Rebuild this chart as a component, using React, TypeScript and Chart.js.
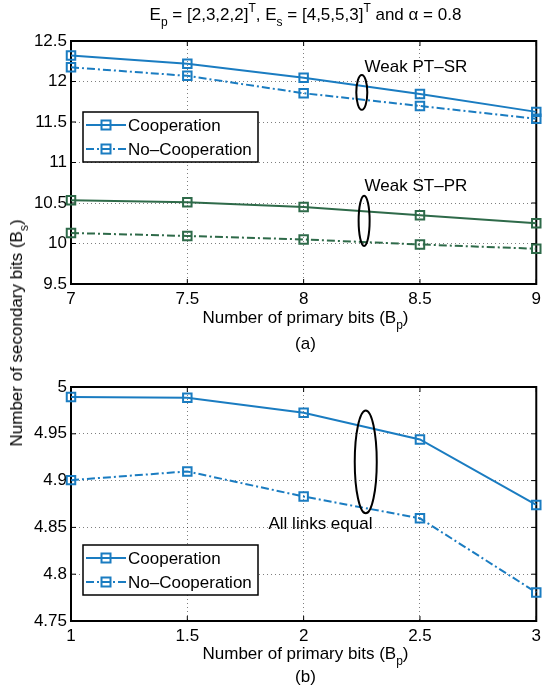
import React, { useEffect, useRef } from "react";
import { Chart, registerables } from "chart.js";

Chart.register(...registerables);

const FONT_FAMILY = '"Liberation Sans", Arial, Helvetica, sans-serif';
const BLUE = "#1a7cc1";
const GREEN = "#2e6a49";

// ---------- Panel (a) data ----------
const primaryBitsA = [7, 7.5, 8, 8.5, 9];
const coopWeakPTSR = [12.32, 12.218, 12.045, 11.845, 11.625];
const noCoopWeakPTSR = [12.175, 12.07, 11.855, 11.698, 11.54];
const coopWeakSTPR = [10.535, 10.51, 10.452, 10.35, 10.25];
const noCoopWeakSTPR = [10.13, 10.093, 10.05, 9.988, 9.935];
const xTicksA = [7, 7.5, 8, 8.5, 9];
const yTicksA = [9.5, 10, 10.5, 11, 11.5, 12, 12.5];

// ---------- Panel (b) data ----------
const primaryBitsB = [1, 1.5, 2, 2.5, 3];
const coopAllEqual = [4.9894, 4.9885, 4.9724, 4.944, 4.874];
const noCoopAllEqual = [4.9005, 4.9098, 4.883, 4.8597, 4.7805];
const xTicksB = [1, 1.5, 2, 2.5, 3];
const yTicksB = [4.75, 4.8, 4.85, 4.9, 4.95, 5];

const legendLabels = ["Cooperation", "No\u2013Cooperation"];

// annotations (data coordinates)
const ellipsesA = [
  { x: 8.25, y: 11.865, halfHeight: 0.215 },
  { x: 8.26, y: 10.28, halfHeight: 0.31 },
];
const notesA = [
  { text: "Weak PT\u2013SR", x: 8.262, y: 12.18 },
  { text: "Weak ST\u2013PR", x: 8.262, y: 10.7 },
];
const ellipsesB = [{ x: 2.267, y: 4.92, halfHeight: 0.055 }];
const notesB = [{ text: "All links equal", x: 1.849, y: 4.853 }];

const DASH_DOT = [8, 3, 2, 3];

function fmt(v: number) {
  return String(Number(v.toFixed(2)));
}

function ds(label: string, xs: number[], ys: number[], color: string, dashed: boolean) {
  return {
    label,
    data: xs.map((x, i) => ({ x, y: ys[i] })),
    borderColor: color,
    backgroundColor: "rgba(0,0,0,0)",
    borderWidth: 2,
    borderDash: dashed ? DASH_DOT : [],
    pointStyle: "rect",
    pointRadius: 6,
    pointHoverRadius: 6,
    pointBorderWidth: 2,
    pointBorderColor: color,
    pointBackgroundColor: "rgba(0,0,0,0)",
    tension: 0,
    fill: false,
    clip: false,
  };
}

function decorPlugin(
  xTicks: number[],
  yTicks: number[],
  ellipses: { x: number; y: number; halfHeight: number }[],
  ellipseRx: number,
  notes: { text: string; x: number; y: number }[],
  legendColor: string,
  legendTopOffset: number
) {
  return {
    id: "decor",
    beforeDatasetsDraw(chart: any) {
      const { ctx, chartArea: a, scales } = chart;
      ctx.save();
      ctx.strokeStyle = "#000";
      ctx.lineWidth = 1;
      ctx.setLineDash([]);
      for (const v of xTicks) {
        const px = scales.x.getPixelForValue(v);
        ctx.beginPath();
        ctx.moveTo(px, a.bottom);
        ctx.lineTo(px, a.bottom - 5);
        ctx.moveTo(px, a.top);
        ctx.lineTo(px, a.top + 5);
        ctx.stroke();
      }
      for (const v of yTicks) {
        const py = scales.y.getPixelForValue(v);
        ctx.beginPath();
        ctx.moveTo(a.left, py);
        ctx.lineTo(a.left + 5, py);
        ctx.moveTo(a.right, py);
        ctx.lineTo(a.right - 5, py);
        ctx.stroke();
      }
      ctx.lineWidth = 2;
      ctx.strokeRect(a.left, a.top, a.right - a.left, a.bottom - a.top);
      ctx.restore();
    },
    afterDatasetsDraw(chart: any) {
      const { ctx, chartArea: a, scales } = chart;
      ctx.save();
      ctx.strokeStyle = "#000";
      ctx.lineWidth = 2;
      ctx.setLineDash([]);
      for (const e of ellipses) {
        const cx = scales.x.getPixelForValue(e.x);
        const cy = scales.y.getPixelForValue(e.y);
        const ry = Math.abs(scales.y.getPixelForValue(e.y + e.halfHeight) - cy);
        ctx.beginPath();
        ctx.ellipse(cx, cy, ellipseRx, ry, 0, 0, Math.PI * 2);
        ctx.stroke();
      }
      ctx.fillStyle = "#000";
      ctx.font = `17px ${FONT_FAMILY}`;
      ctx.textAlign = "left";
      ctx.textBaseline = "middle";
      for (const n of notes) {
        ctx.fillText(n.text, scales.x.getPixelForValue(n.x), scales.y.getPixelForValue(n.y));
      }
      const bx = a.left + 12;
      const by = a.top + legendTopOffset;
      const bw = 175;
      const bh = 50;
      ctx.fillStyle = "#fff";
      ctx.fillRect(bx, by, bw, bh);
      ctx.strokeStyle = "#000";
      ctx.lineWidth = 1.5;
      ctx.strokeRect(bx, by, bw, bh);
      legendLabels.forEach((lab, i) => {
        const ry = by + 13 + i * 24;
        ctx.strokeStyle = legendColor;
        ctx.lineWidth = 2;
        ctx.setLineDash(i === 1 ? DASH_DOT : []);
        ctx.beginPath();
        ctx.moveTo(bx + 3, ry);
        ctx.lineTo(bx + 43, ry);
        ctx.stroke();
        ctx.setLineDash([]);
        ctx.strokeRect(bx + 23 - 4.5, ry - 4.5, 9, 9);
        ctx.fillStyle = "#000";
        ctx.font = `17px ${FONT_FAMILY}`;
        ctx.textBaseline = "middle";
        ctx.fillText(lab, bx + 45, ry + 1);
      });
      ctx.restore();
    },
  };
}

function makeConfig(opts: {
  datasets: any[];
  xTicks: number[];
  yTicks: number[];
  padTop: number;
  padBottom: number;
  plugin: any;
}) {
  const tickFont = { family: FONT_FAMILY, size: 17 };
  return {
    type: "line" as const,
    data: { datasets: opts.datasets },
    options: {
      animation: false,
      responsive: false,
      maintainAspectRatio: false,
      events: [],
      layout: { padding: { left: 0, right: 6, top: opts.padTop, bottom: opts.padBottom } },
      plugins: {
        legend: { display: false },
        tooltip: { enabled: false },
        title: { display: false },
      },
      scales: {
        x: {
          type: "linear",
          min: opts.xTicks[0],
          max: opts.xTicks[opts.xTicks.length - 1],
          afterBuildTicks: (s: any) => {
            s.ticks = opts.xTicks.map((v) => ({ value: v }));
          },
          afterFit: (s: any) => {
            s.height = 40;
          },
          ticks: {
            autoSkip: false,
            maxRotation: 0,
            padding: 5,
            color: "#000",
            font: tickFont,
            callback: (v: any) => fmt(Number(v)),
          },
          grid: { color: "rgba(0,0,0,0.5)", lineWidth: 1, drawTicks: false },
          border: { display: false, dash: [1, 3] },
        },
        y: {
          type: "linear",
          min: opts.yTicks[0],
          max: opts.yTicks[opts.yTicks.length - 1],
          afterBuildTicks: (s: any) => {
            s.ticks = opts.yTicks.map((v) => ({ value: v }));
          },
          afterFit: (s: any) => {
            s.width = 71;
          },
          ticks: {
            autoSkip: false,
            padding: 4,
            color: "#000",
            font: tickFont,
            callback: (v: any) => fmt(Number(v)),
          },
          grid: { color: "rgba(0,0,0,0.5)", lineWidth: 1, drawTicks: false },
          border: { display: false, dash: [1, 3] },
        },
      },
    },
    plugins: [opts.plugin],
  };
}

const textBase: React.CSSProperties = {
  position: "absolute",
  transform: "translate(-50%, -50%)",
  whiteSpace: "nowrap",
  fontFamily: FONT_FAMILY,
  fontSize: 17,
  lineHeight: "20px",
  color: "#000",
};
const subStyle: React.CSSProperties = {
  fontSize: 12,
  position: "relative",
  top: 6,
  verticalAlign: "baseline",
  lineHeight: 0,
};
const supStyle: React.CSSProperties = {
  fontSize: 12,
  position: "relative",
  top: -8,
  verticalAlign: "baseline",
  lineHeight: 0,
};

export default function App() {
  const refA = useRef<HTMLCanvasElement>(null);
  const refB = useRef<HTMLCanvasElement>(null);

  useEffect(() => {
    const chartA = new Chart(
      refA.current as HTMLCanvasElement,
      makeConfig({
        datasets: [
          ds("Cooperation (Weak PT-SR)", primaryBitsA, coopWeakPTSR, BLUE, false),
          ds("No-Cooperation (Weak PT-SR)", primaryBitsA, noCoopWeakPTSR, BLUE, true),
          ds("Cooperation (Weak ST-PR)", primaryBitsA, coopWeakSTPR, GREEN, false),
          ds("No-Cooperation (Weak ST-PR)", primaryBitsA, noCoopWeakSTPR, GREEN, true),
        ],
        xTicks: xTicksA,
        yTicks: yTicksA,
        padTop: 41,
        padBottom: 21,
        plugin: decorPlugin(xTicksA, yTicksA, ellipsesA, 5.5, notesA, BLUE, 71),
      }) as any
    );
    const chartB = new Chart(
      refB.current as HTMLCanvasElement,
      makeConfig({
        datasets: [
          ds("Cooperation", primaryBitsB, coopAllEqual, BLUE, false),
          ds("No-Cooperation", primaryBitsB, noCoopAllEqual, BLUE, true),
        ],
        xTicks: xTicksB,
        yTicks: yTicksB,
        padTop: 42,
        padBottom: 28,
        plugin: decorPlugin(xTicksB, yTicksB, ellipsesB, 11, notesB, BLUE, 158),
      }) as any
    );
    return () => {
      chartA.destroy();
      chartB.destroy();
    };
  }, []);

  return (
    <div
      style={{
        position: "fixed",
        left: 0,
        top: 0,
        width: 546,
        height: 689,
        background: "#fff",
        overflow: "hidden",
      }}
    >
      <canvas
        ref={refA}
        width={546}
        height={345}
        style={{ position: "absolute", left: 0, top: 0, width: 546, height: 345 }}
      />
      <canvas
        ref={refB}
        width={546}
        height={344}
        style={{ position: "absolute", left: 0, top: 345, width: 546, height: 344 }}
      />
      <div style={{ ...textBase, left: 305.5, top: 15 }}>
        E<span style={subStyle}>p</span> = [2,3,2,2]<span style={supStyle}>T</span>, E
        <span style={subStyle}>s</span> = [4,5,5,3]<span style={supStyle}>T</span> and α = 0.8
      </div>
      <div style={{ ...textBase, left: 305.5, top: 318 }}>
        Number of primary bits (B<span style={subStyle}>p</span>)
      </div>
      <div style={{ ...textBase, left: 305.5, top: 344 }}>(a)</div>
      <div style={{ ...textBase, left: 305.5, top: 654 }}>
        Number of primary bits (B<span style={subStyle}>p</span>)
      </div>
      <div style={{ ...textBase, left: 305.5, top: 677 }}>(b)</div>
      <div
        style={{
          ...textBase,
          left: 17,
          top: 333,
          transform: "translate(-50%, -50%) rotate(-90deg)",
        }}
      >
        Number of secondary bits (B<span style={subStyle}>s</span>)
      </div>
    </div>
  );
}
